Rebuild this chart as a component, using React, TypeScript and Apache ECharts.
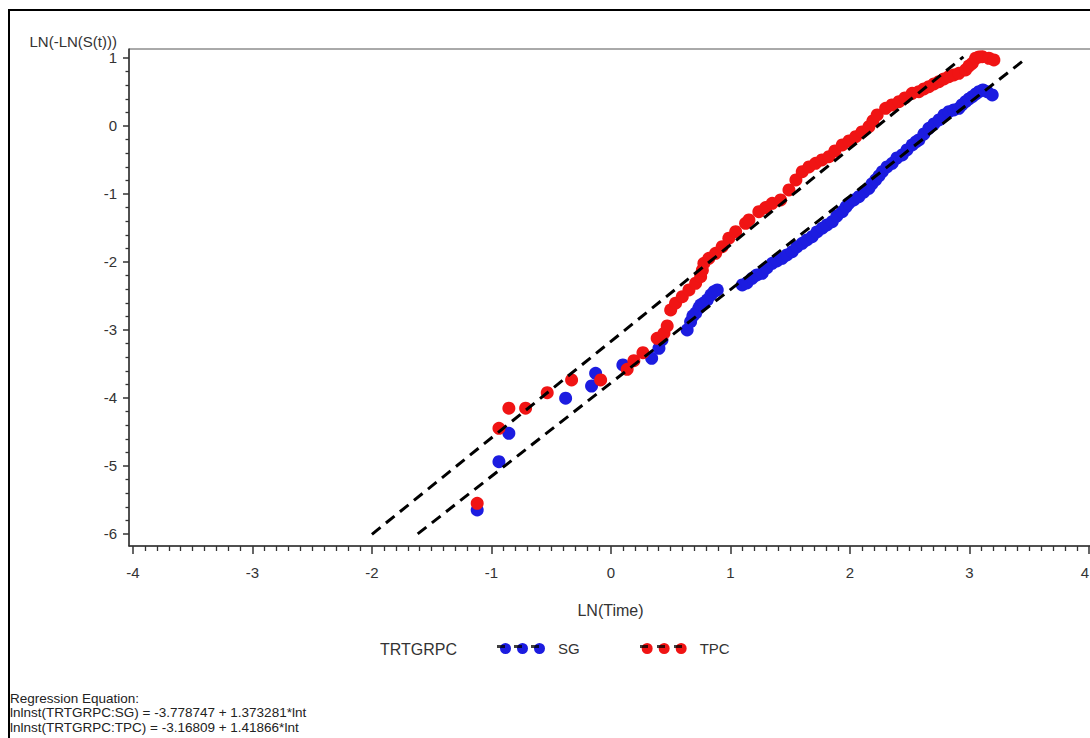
import React, { useEffect, useRef } from "react";
import * as echarts from "echarts";

// ---- data ----
const sgX = [-1.119, -0.937, -0.854, -0.379, -0.162, -0.128, 0.100, 0.341, 0.402, 0.427, 0.638, 0.667, 0.686, 0.709, 0.736, 0.751, 0.778, 0.806, 0.837, 0.862, 0.890, 1.099, 1.138, 1.182, 1.222, 1.266, 1.305, 1.350, 1.389, 1.433, 1.473, 1.517, 1.556, 1.601, 1.640, 1.684, 1.724, 1.768, 1.808, 1.852, 1.891, 1.936, 1.967, 1.992, 2.033, 2.075, 2.117, 2.159, 2.184, 2.215, 2.243, 2.271, 2.310, 2.354, 2.393, 2.438, 2.477, 2.521, 2.552, 2.577, 2.619, 2.661, 2.703, 2.745, 2.787, 2.828, 2.870, 2.912, 2.937, 2.968, 2.996, 3.024, 3.054, 3.080, 3.113, 3.149, 3.191];
const sgY = [-5.647, -4.937, -4.519, -4.004, -3.824, -3.637, -3.515, -3.416, -3.269, -3.147, -3.000, -2.878, -2.794, -2.754, -2.676, -2.632, -2.603, -2.559, -2.485, -2.437, -2.412, -2.338, -2.309, -2.240, -2.191, -2.166, -2.088, -2.019, -1.985, -1.946, -1.897, -1.849, -1.779, -1.725, -1.676, -1.628, -1.559, -1.504, -1.456, -1.407, -1.324, -1.260, -1.191, -1.137, -1.088, -1.040, -0.971, -0.916, -0.853, -0.794, -0.735, -0.672, -0.603, -0.549, -0.471, -0.426, -0.353, -0.279, -0.235, -0.206, -0.118, -0.034, 0.029, 0.088, 0.162, 0.210, 0.235, 0.260, 0.309, 0.357, 0.397, 0.431, 0.471, 0.504, 0.529, 0.504, 0.456];

const tpcX = [-1.119, -0.937, -0.854, -0.714, -0.533, -0.329, -0.086, 0.136, 0.192, 0.268, 0.387, 0.444, 0.471, 0.500, 0.541, 0.597, 0.653, 0.709, 0.751, 0.765, 0.778, 0.820, 0.876, 0.931, 0.987, 1.044, 1.127, 1.155, 1.238, 1.295, 1.350, 1.420, 1.490, 1.548, 1.601, 1.657, 1.713, 1.766, 1.824, 1.874, 1.936, 1.992, 2.048, 2.100, 2.159, 2.192, 2.228, 2.299, 2.351, 2.410, 2.460, 2.521, 2.577, 2.619, 2.661, 2.703, 2.745, 2.787, 2.828, 2.870, 2.912, 2.968, 2.996, 3.024, 3.052, 3.080, 3.107, 3.163, 3.205];
const tpcY = [-5.549, -4.446, -4.151, -4.151, -3.922, -3.735, -3.735, -3.578, -3.451, -3.334, -3.122, -3.049, -2.941, -2.706, -2.607, -2.510, -2.412, -2.313, -2.216, -2.120, -2.019, -1.946, -1.872, -1.775, -1.651, -1.554, -1.431, -1.382, -1.260, -1.200, -1.137, -1.088, -0.941, -0.794, -0.672, -0.603, -0.549, -0.500, -0.451, -0.368, -0.279, -0.221, -0.157, -0.088, -0.010, 0.074, 0.162, 0.260, 0.309, 0.357, 0.412, 0.481, 0.504, 0.544, 0.578, 0.618, 0.651, 0.691, 0.725, 0.750, 0.775, 0.824, 0.882, 0.922, 0.996, 1.015, 1.019, 0.996, 0.971];

// regression equations (from the chart's footnote)
const sgIntercept = -3.778747;
const sgSlope = 1.373281;
const tpcIntercept = -3.16809;
const tpcSlope = 1.41866;
const sgLineX = [-1.617, 3.44];
const tpcLineX = [-2.0, 2.95];

const xTicks = [-4, -3, -2, -1, 0, 1, 2, 3, 4];
const yTicks = [-6, -5, -4, -3, -2, -1, 0, 1];

const seriesNames = ["SG", "TPC"];
const groupTitle = "TRTGRPC";
const xName = "LN(Time)";
const yName = "LN(-LN(S(t)))";
const regressionLines = [
  "Regression Equation:",
  "lnlnst(TRTGRPC:SG) = -3.778747 + 1.373281*lnt",
  "lnlnst(TRTGRPC:TPC) = -3.16809 + 1.41866*lnt",
];

const BLUE = "#1c1ce0";
const RED = "#f01414";
const FONT = "'Liberation Sans', Arial, sans-serif";

function minorOf(major: number[], parts: number): number[] {
  const out: number[] = [];
  for (let i = 0; i < major.length - 1; i++) {
    const step = (major[i + 1] - major[i]) / parts;
    for (let k = 1; k < parts; k++) out.push(+(major[i] + k * step).toFixed(4));
  }
  return out;
}

export default function App() {
  const ref = useRef<HTMLDivElement>(null);
  useEffect(() => {
    if (!ref.current) return;
    const chart = echarts.init(ref.current, undefined, { renderer: "svg" });
    const xMin = -4.033, xMax = 4.026, yMin = -6.177, yMax = 1.132;
    const axisColor = "#333";
    const dots =
      "path://M0,5.5a5.5,5.5 0 1,0 11,0a5.5,5.5 0 1,0 -11,0z" +
      "M17,5.5a5.5,5.5 0 1,0 11,0a5.5,5.5 0 1,0 -11,0z" +
      "M34,5.5a5.5,5.5 0 1,0 11,0a5.5,5.5 0 1,0 -11,0z";
    const lastTick = xTicks[xTicks.length - 1];
    const option: any = {
      animation: false,
      textStyle: { fontFamily: FONT },
      grid: {
        left: 129, top: 49, width: 963, height: 497,
        outerBoundsMode: "none", containLabel: false,
        show: true, borderColor: "#555", borderWidth: 1, backgroundColor: "transparent",
      },
      xAxis: [
        {
          type: "value", min: xMin, max: xMax, position: "bottom",
          name: xName, nameLocation: "middle", nameGap: 56,
          nameTextStyle: { fontSize: 16, color: "#333", fontFamily: FONT },
          axisLine: { onZero: false, lineStyle: { color: axisColor, width: 1.5 } },
          axisTick: { customValues: xTicks, length: 8, lineStyle: { color: axisColor, width: 1.5 } },
          axisLabel: {
            customValues: xTicks, margin: 19, fontSize: 15, color: "#333", fontFamily: FONT, hideOverlap: false,
            formatter: (v: number) => (v === lastTick ? "{r|" + v + "}" : String(v)),
            rich: { r: { fontSize: 15, color: "#333", fontFamily: FONT, padding: [0, 8, 0, 0] } },
          },
          splitLine: { show: false },
        },
        {
          type: "value", min: xMin, max: xMax, position: "bottom",
          axisLine: { show: false, onZero: false },
          axisTick: { customValues: minorOf(xTicks, 10), length: 5, lineStyle: { color: axisColor, width: 1.3 } },
          axisLabel: { show: false },
          splitLine: { show: false },
        },
      ],
      yAxis: [
        {
          type: "value", min: yMin, max: yMax, position: "left",
          name: yName, nameLocation: "end", nameGap: 0,
          nameTextStyle: { fontSize: 15, color: "#333", align: "right", verticalAlign: "bottom", padding: [0, 12, 0, 0], fontFamily: FONT },
          axisLine: { onZero: false, lineStyle: { color: axisColor, width: 1.5 } },
          axisTick: { customValues: yTicks, length: 6, lineStyle: { color: axisColor, width: 1.5 } },
          axisLabel: { customValues: yTicks, margin: 12, fontSize: 15, color: "#333", fontFamily: FONT },
          splitLine: { show: false },
        },
        {
          type: "value", min: yMin, max: yMax, position: "left",
          axisLine: { show: false, onZero: false },
          axisTick: { customValues: minorOf(yTicks, 5), length: 3.5, lineStyle: { color: axisColor, width: 1.3 } },
          axisLabel: { show: false },
          splitLine: { show: false },
        },
      ],
      legend: {
        data: seriesNames.map((n) => ({ name: n, icon: dots })),
        left: 500, top: 641, padding: 0,
        itemWidth: 45, itemHeight: 11, itemGap: 62,
        textStyle: { fontSize: 15, color: "#333", padding: [0, 0, 0, 8], fontFamily: FONT },
        selectedMode: false,
      },
      series: [
        {
          name: "SG", type: "scatter", xAxisIndex: 0, yAxisIndex: 0,
          symbol: "circle", symbolSize: 13, itemStyle: { color: BLUE, opacity: 1 },
          data: sgX.map((x, i) => [x, sgY[i]]), z: 2,
        },
        {
          name: "TPC", type: "scatter", xAxisIndex: 0, yAxisIndex: 0,
          symbol: "circle", symbolSize: 13, itemStyle: { color: RED, opacity: 1 },
          data: tpcX.map((x, i) => [x, tpcY[i]]), z: 3,
        },
        {
          name: "SG fit", type: "line", xAxisIndex: 0, yAxisIndex: 0, silent: true,
          symbol: "none", z: 5,
          lineStyle: { color: "#000", width: 3, type: [11, 7] },
          data: sgLineX.map((x) => [x, sgIntercept + sgSlope * x]),
        },
        {
          name: "TPC fit", type: "line", xAxisIndex: 0, yAxisIndex: 0, silent: true,
          symbol: "none", z: 5,
          lineStyle: { color: "#000", width: 3, type: [11, 7] },
          data: tpcLineX.map((x) => [x, tpcIntercept + tpcSlope * x]),
        },
      ],
      graphic: [
        {
          type: "rect", silent: true, z: 0,
          shape: { x: 9, y: 10, width: 1100, height: 760 },
          style: { fill: "none", stroke: "#000", lineWidth: 2 },
        },
        {
          type: "text", left: 380, top: 641,
          style: { text: groupTitle, fontSize: 16, fill: "#333", fontFamily: FONT },
        },
        {
          type: "line", silent: true, z: 100,
          shape: { x1: 497, y1: 646.5, x2: 548, y2: 646.5 },
          style: { stroke: "#000", lineWidth: 3, lineDash: [8, 9], opacity: 0.75 },
        },
        {
          type: "line", silent: true, z: 100,
          shape: { x1: 640, y1: 646.5, x2: 691, y2: 646.5 },
          style: { stroke: "#000", lineWidth: 3, lineDash: [8, 9], opacity: 0.75 },
        },
        {
          type: "text", left: 10, top: 691,
          style: {
            text: regressionLines.join("\n"), fontSize: 13.5, lineHeight: 14.5,
            fill: "#222", fontFamily: FONT,
          },
        },
      ],
    };
    chart.setOption(option);
    return () => chart.dispose();
  }, []);
  return (
    <div
      ref={ref}
      style={{ position: "absolute", left: 0, top: 0, width: 1090, height: 738, overflow: "hidden", background: "#fff" }}
    />
  );
}
